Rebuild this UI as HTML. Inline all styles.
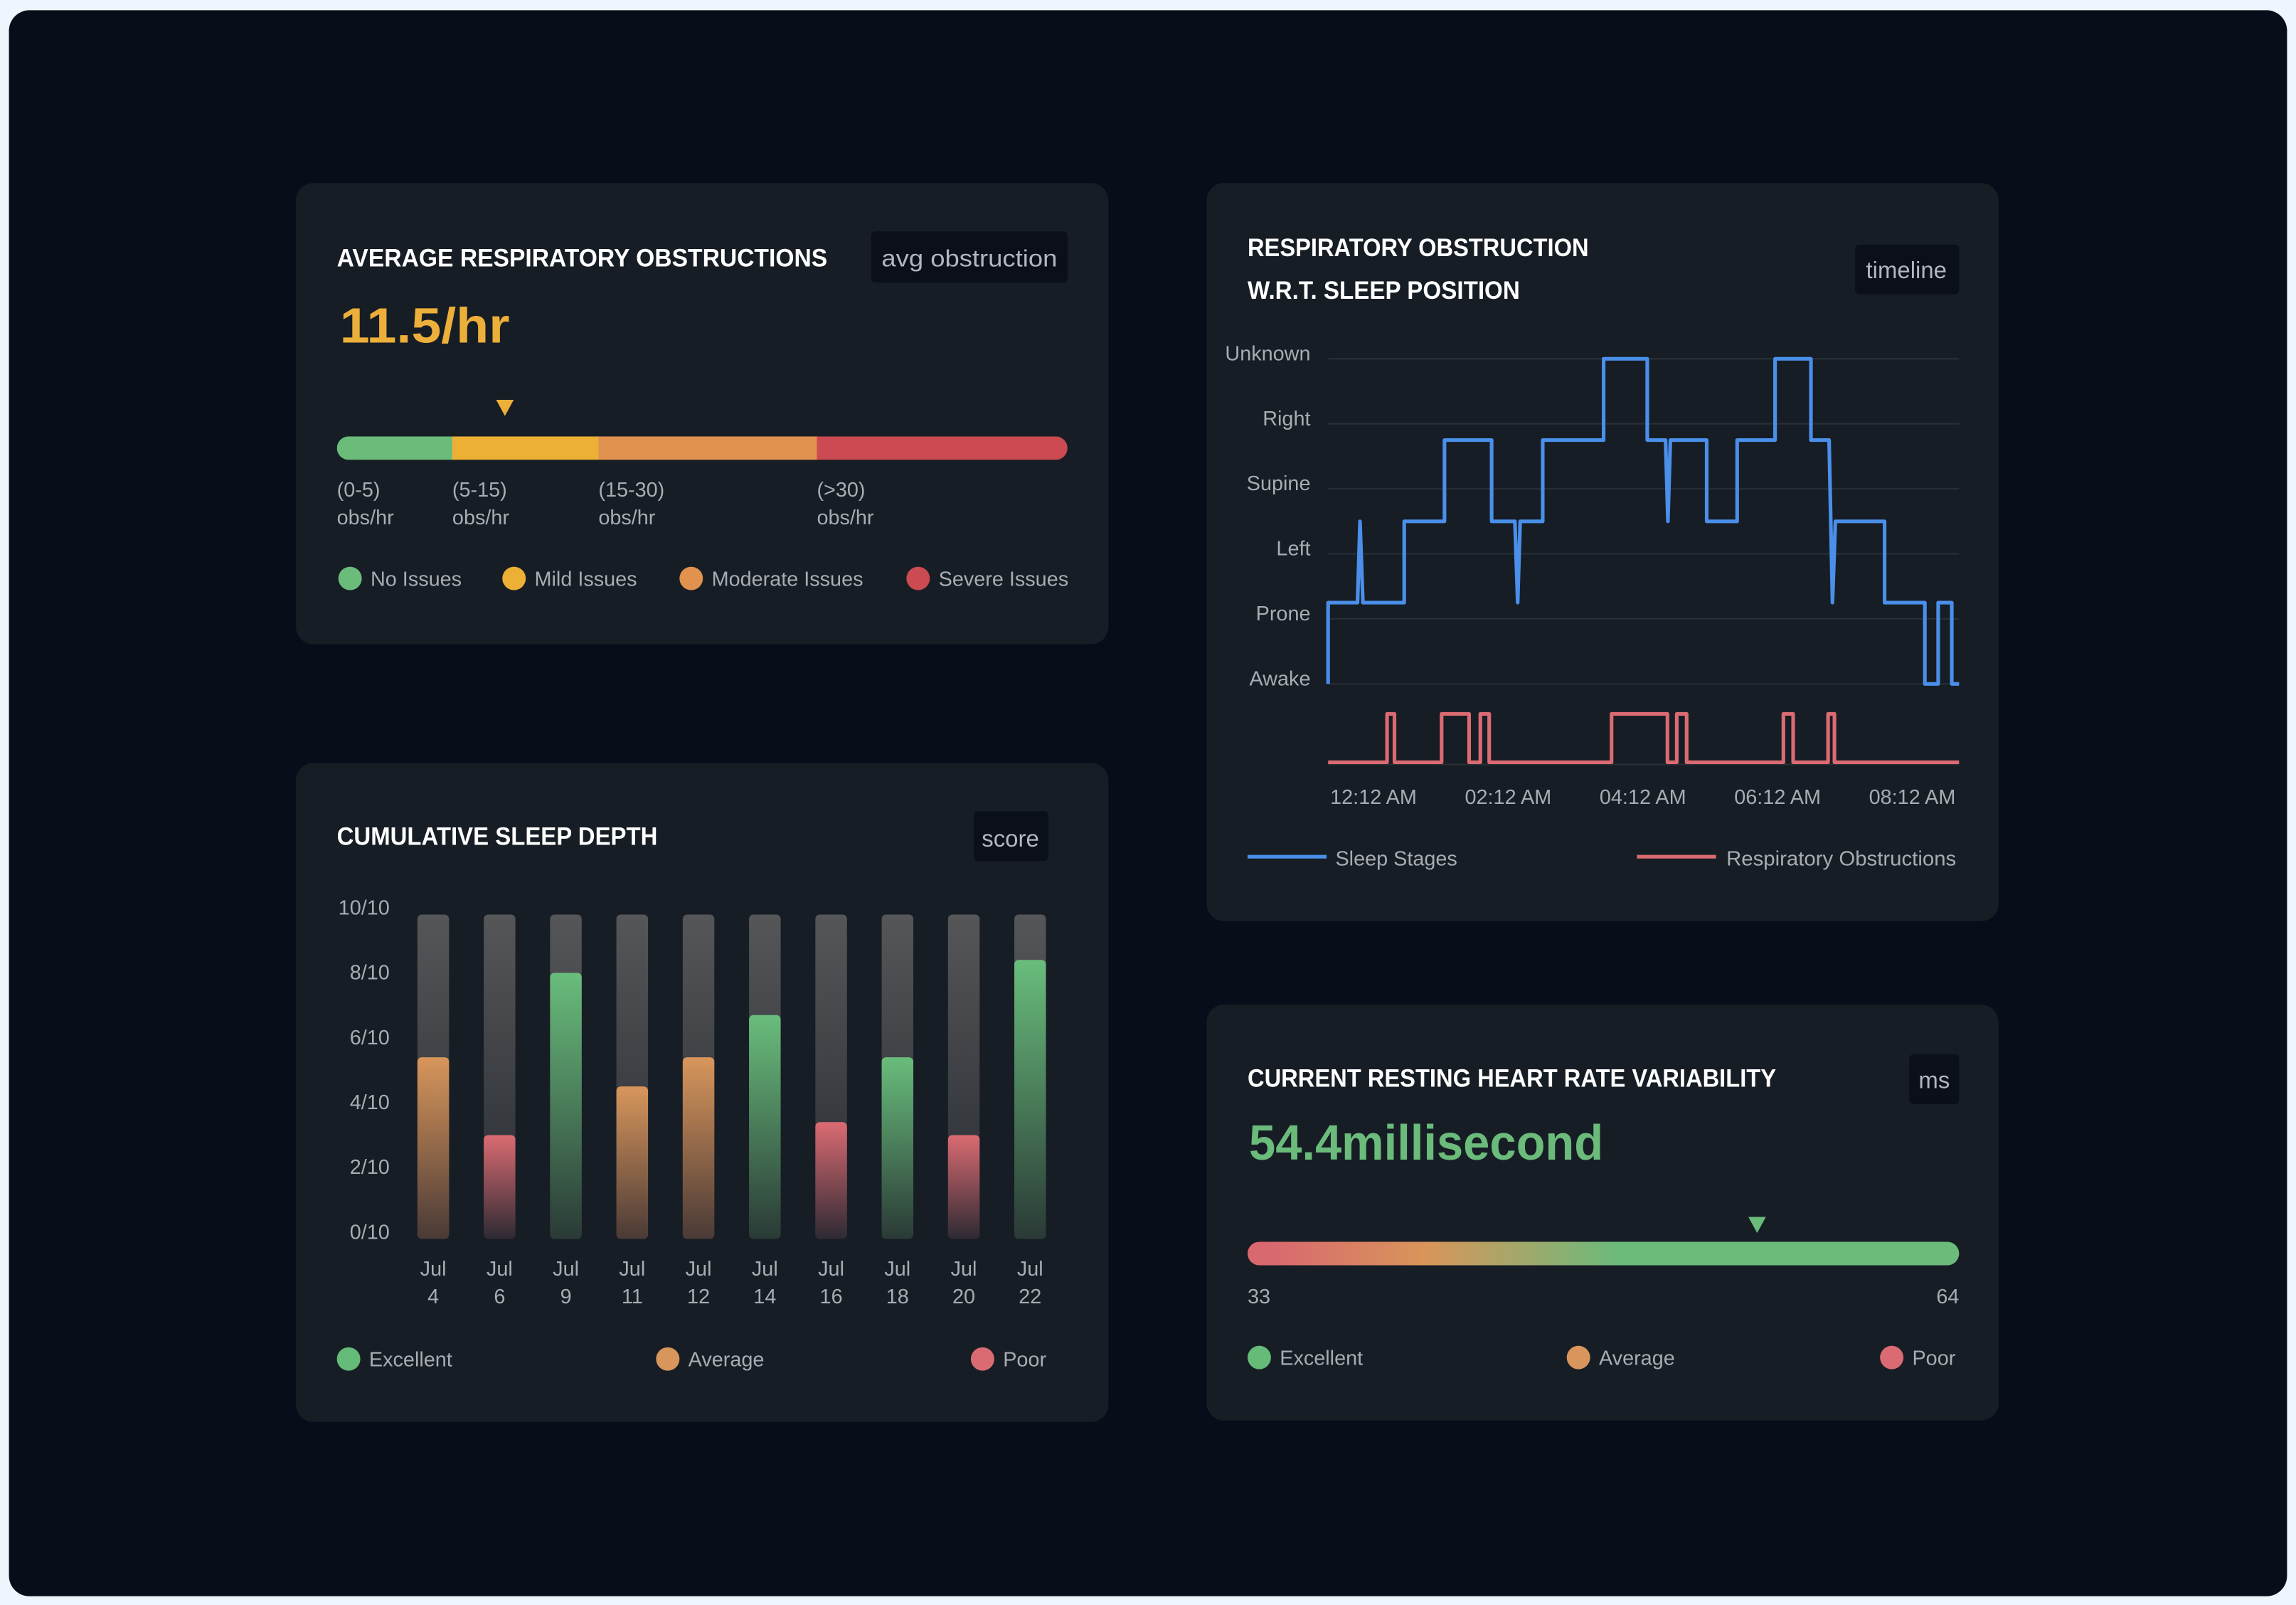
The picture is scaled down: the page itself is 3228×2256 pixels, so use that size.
<!DOCTYPE html>
<html><head><meta charset="utf-8"><style>
html,body{margin:0;padding:0;background:#eef5fd;}
svg{display:block;}
text{font-family:"Liberation Sans",sans-serif;}
</style></head><body>
<svg id="root" width="3228" height="2256" viewBox="0 0 1568 1096" xmlns="http://www.w3.org/2000/svg">
<defs>
<linearGradient id="trackG" x1="0" y1="0" x2="0" y2="1"><stop offset="0" stop-color="#555658"/><stop offset="1" stop-color="#262a31"/></linearGradient>
<linearGradient id="gG" x1="0" y1="0" x2="0" y2="1"><stop offset="0" stop-color="#69bd7c"/><stop offset="1" stop-color="#2a3a36"/></linearGradient>
<linearGradient id="oG" x1="0" y1="0" x2="0" y2="1"><stop offset="0" stop-color="#d8965c"/><stop offset="1" stop-color="#4a3a36"/></linearGradient>
<linearGradient id="rG" x1="0" y1="0" x2="0" y2="1"><stop offset="0" stop-color="#db6b72"/><stop offset="1" stop-color="#2e2a33"/></linearGradient>
<linearGradient id="hrvG" x1="0" y1="0" x2="1" y2="0"><stop offset="0.03" stop-color="#d9686f"/><stop offset="0.25" stop-color="#d8955a"/><stop offset="0.52" stop-color="#6bbb7b"/><stop offset="1" stop-color="#6bbb7b"/></linearGradient>
<clipPath id="obsClip"><rect x="230" y="298" width="499" height="16" rx="8"/></clipPath>
</defs>
<rect x="6" y="7" width="1556" height="1083" rx="14" fill="#070d19"/>

<!-- Card 1 -->
<g>
<rect x="202" y="125" width="555" height="315" rx="12" fill="#171d25"/>
<text x="230" y="182" font-size="17" font-weight="bold" fill="#ffffff" textLength="335" lengthAdjust="spacingAndGlyphs">AVERAGE RESPIRATORY OBSTRUCTIONS</text>
<rect x="595" y="158" width="134" height="35" rx="3" fill="#0a0f1a"/>
<text x="662" y="182" font-size="16" fill="#b3b6bb" text-anchor="middle" textLength="120" lengthAdjust="spacingAndGlyphs">avg obstruction</text>
<text x="232" y="234" font-size="34" font-weight="bold" fill="#ecb03a" textLength="116" lengthAdjust="spacingAndGlyphs">11.5/hr</text>
<g id="obsBar" clip-path="url(#obsClip)"></g>
<g id="obsLabels"></g>
<polygon id="obsMarker" fill="#ecb03a"/>
<g id="obsLegend"></g>
</g>

<!-- Card 2 -->
<g>
<rect x="202" y="521" width="555" height="450" rx="12" fill="#171d25"/>
<text x="230" y="577" font-size="17" font-weight="bold" fill="#ffffff" textLength="219" lengthAdjust="spacingAndGlyphs">CUMULATIVE SLEEP DEPTH</text>
<rect x="665" y="554" width="51" height="34" rx="3" fill="#0a0f1a"/>
<text x="690" y="578" font-size="16" fill="#b3b6bb" text-anchor="middle">score</text>
<g id="barChart"></g>
<g id="barLegend"></g>
</g>

<!-- Card 3 -->
<g>
<rect x="824" y="125" width="541" height="504" rx="12" fill="#171d25"/>
<text x="852" y="175" font-size="17" font-weight="bold" fill="#ffffff" textLength="233" lengthAdjust="spacingAndGlyphs">RESPIRATORY OBSTRUCTION</text>
<text x="852" y="204" font-size="17" font-weight="bold" fill="#ffffff" textLength="186" lengthAdjust="spacingAndGlyphs">W.R.T. SLEEP POSITION</text>
<rect x="1267" y="167" width="71" height="34" rx="3" fill="#0a0f1a"/>
<text x="1302" y="190" font-size="16" fill="#b3b6bb" text-anchor="middle">timeline</text>
<g id="timeline"></g>
<line x1="852" y1="585" x2="906" y2="585" stroke="#4a8fea" stroke-width="2.5"/>
<text x="912" y="591" font-size="14" fill="#a8acb3">Sleep Stages</text>
<line x1="1118" y1="585" x2="1172" y2="585" stroke="#db6b72" stroke-width="2.5"/>
<text x="1179" y="591" font-size="14" fill="#a8acb3" textLength="157" lengthAdjust="spacingAndGlyphs">Respiratory Obstructions</text>
</g>

<!-- Card 4 -->
<g>
<rect x="824" y="686" width="541" height="284" rx="12" fill="#171d25"/>
<text x="852" y="742" font-size="17" font-weight="bold" fill="#ffffff" textLength="361" lengthAdjust="spacingAndGlyphs">CURRENT RESTING HEART RATE VARIABILITY</text>
<rect x="1304" y="720" width="34" height="34" rx="3" fill="#0a0f1a"/>
<text x="1321" y="743" font-size="16" fill="#b3b6bb" text-anchor="middle">ms</text>
<text x="853" y="792" font-size="34" font-weight="bold" fill="#6bbb7b" textLength="242" lengthAdjust="spacingAndGlyphs">54.4millisecond</text>
<rect x="852" y="848" width="486" height="16" rx="8" fill="url(#hrvG)"/>
<polygon id="hrvMarker" fill="#6bbb7b"/>
<text x="852" y="890" font-size="14" fill="#a8acb3">33</text>
<text x="1338" y="890" font-size="14" fill="#a8acb3" text-anchor="end">64</text>
<g id="hrvLegend"></g>
</g>
</svg>
<script>
// ---------- data ----------
const obsSegLabels = ["(0-5)","(5-15)","(15-30)","(>30)"];
const obsSegStarts = [0, 5, 15, 30];
const obsSegWidthsPct = [15.8, 20.0, 29.9, 34.3];
const obsSegColors = ["#6bbb7b","#ecb035","#e0924e","#cc4a51"];
const obsValue = [11.5];
const obsScaleMax = [50];
const obsLegendNames = ["No Issues","Mild Issues","Moderate Issues","Severe Issues"];

const depthDates = ["Jul 4","Jul 6","Jul 9","Jul 11","Jul 12","Jul 14","Jul 16","Jul 18","Jul 20","Jul 22"];
const depthValues = [5.6,3.2,8.2,4.7,5.6,6.9,3.6,5.6,3.2,8.6];
const depthTicks = ["0/10","2/10","4/10","6/10","8/10","10/10"];

const stageLabels = ["Awake","Prone","Left","Supine","Right","Unknown"];
const sleepTimes = [-40.4,-40.4,-14.2,-12.0,-9.4,27.4,27.4,63.3,63.3,105.3,105.3,126,128.5,130.7,150.8,150.8,205,205,243.9,243.9,260.2,262.3,264.5,296.9,296.9,324,324,357.8,357.8,389.7,389.7,405.9,408.9,411.5,455.3,455.3,491.2,491.2,503.1,503.1,515.2,515.2,521.7];
const sleepLevels = [0,1,1,2,1,1,2,2,3,3,2,2,1,2,2,3,3,4,4,3,3,2,3,3,2,2,3,3,4,4,3,3,1,2,2,1,1,0,0,1,1,0,0];
const obsStarts = [12.1,60.7,95.2,212.1,270.2,365.2,405.0];
const obsEnds = [18.7,85.2,103.1,261.9,279.0,373.9,410.7];
const timeTicks = ["12:12 AM","02:12 AM","04:12 AM","06:12 AM","08:12 AM"];
const timeTickMinutes = [0,120,240,360,480];

const hrvValue = [55.2];
const hrvMin = [33], hrvMax = [64];

const NS="http://www.w3.org/2000/svg";
function mk(tag, attrs, parent){const e=document.createElementNS(NS,tag);for(const k in attrs)e.setAttribute(k,attrs[k]);parent.appendChild(e);return e;}

// ---------- card 1 ----------
(function(){
  const bar=document.getElementById('obsBar'), lab=document.getElementById('obsLabels');
  let x=230;const W=499;
  obsSegWidthsPct.forEach((p,i)=>{
    const w=W*p/100;
    const r=mk('rect',{x:x,y:298,width:w+0.5,height:16,fill:obsSegColors[i]},bar);
    
    
    const t1=mk('text',{x:x,y:339,'font-size':14,fill:'#a8acb3'},lab);t1.textContent=obsSegLabels[i];
    
    
    const t2=mk('text',{x:x,y:358,'font-size':14,fill:'#a8acb3'},lab);t2.textContent='obs/hr';
    
    
    x+=w;
  });
  const mx=230+W*obsValue[0]/obsScaleMax[0];
  document.getElementById('obsMarker').setAttribute('points',`${mx-6},273 ${mx+6},273 ${mx},284`);
  const leg=document.getElementById('obsLegend');
  const lx=[239,351,472,627];
  obsLegendNames.forEach((n,i)=>{
    const c=mk('circle',{cx:lx[i],cy:395,r:8,fill:obsSegColors[i]},leg);
    
    
    const t=mk('text',{x:lx[i]+14,y:400,'font-size':14,fill:'#a8acb3'},leg);t.textContent=n;
    
    
  });
})();

// ---------- card 2 ----------
(function(){
  const g=document.getElementById('barChart');
  const y=v=>846-v/10*221.5;
  const x0=285,pitch=45.3,bw=21.6;
  depthTicks.forEach((t,i)=>{
    const e=mk('text',{x:266,y:y(i*2),'font-size':14,fill:'#a8acb3','text-anchor':'end'},g);e.textContent=t;
    
    
  });
  depthValues.forEach((v,i)=>{
    const x=x0+i*pitch;
    const tr=mk('rect',{x:x,y:y(10),width:bw,height:y(0)-y(10),rx:3,fill:'url(#trackG)'},g);
    
    
    let fill=v<4?'url(#rG)':(v<5.7?'url(#oG)':'url(#gG)');
    if(i===7) fill='url(#gG)';
    const b=mk('rect',{x:x,y:y(v),width:bw,height:y(0)-y(v),rx:3,fill:fill},g);
    
    
    const parts=depthDates[i].split(' ');
    const t1=mk('text',{x:x+bw/2,y:871,'font-size':14,fill:'#a8acb3','text-anchor':'middle'},g);t1.textContent=parts[0];
    
    
    const t2=mk('text',{x:x+bw/2,y:890,'font-size':14,fill:'#a8acb3','text-anchor':'middle'},g);t2.textContent=parts[1];
    
    
  });
  const leg=document.getElementById('barLegend');
  const items=[["Excellent","#65bb78",238],["Average","#d8965c",456],["Poor","#db6b72",671]];
  items.forEach(it=>{
    const c=mk('circle',{cx:it[2],cy:928,r:8,fill:it[1]},leg);
    
    
    const t=mk('text',{x:it[2]+14,y:933,'font-size':14,fill:'#a8acb3'},leg);t.textContent=it[0];
    
    
  });
})();

// ---------- card 3 ----------
(function(){
  const g=document.getElementById('timeline');
  const X=m=>938+m/60*46;
  const gy=i=>467-i*44.4;
  const ly=l=>467-l*55.5;
  stageLabels.forEach((s,i)=>{
    const l=mk('line',{x1:907,x2:1338,y1:gy(i),y2:gy(i),stroke:'#2a2f36','stroke-width':1},g);
    
    
    const t=mk('text',{x:895,y:gy(i)+1,'font-size':14,fill:'#a8acb3','text-anchor':'end'},g);t.textContent=s;
    
    
  });
  const bl=mk('line',{x1:907,x2:1338,y1:522,y2:522,stroke:'#2a2f36','stroke-width':1},g);
  
  
  const pts=sleepTimes.map((t,i)=>X(t).toFixed(1)+','+ly(sleepLevels[i]).toFixed(1)).join(' ');
  const pl=mk('polyline',{points:pts,fill:'none',stroke:'#4a8fea','stroke-width':2.5,'stroke-linejoin':'round'},g);
  
  
  const base=520.5,hi=487.5;
  let d=`M${X(-40.4)},${base}`;
  obsStarts.forEach((s,i)=>{d+=` L${X(s)},${base} L${X(s)},${hi} L${X(obsEnds[i])},${hi} L${X(obsEnds[i])},${base}`;});
  d+=` L${X(521.7)},${base}`;
  const rp=mk('path',{d:d,fill:'none',stroke:'#db6b72','stroke-width':2.5,'stroke-linejoin':'round'},g);
  
  
  timeTicks.forEach((t,i)=>{
    const e=mk('text',{x:X(timeTickMinutes[i]),y:549,'font-size':14,fill:'#a8acb3','text-anchor':'middle'},g);e.textContent=t;
    
    
  });
})();

// ---------- card 4 ----------
(function(){
  const mx=852+486*(hrvValue[0]-hrvMin[0])/(hrvMax[0]-hrvMin[0]);
  document.getElementById('hrvMarker').setAttribute('points',`${mx-6},831 ${mx+6},831 ${mx},842`);
  const leg=document.getElementById('hrvLegend');
  const items=[["Excellent","#65bb78",860],["Average","#d8965c",1078],["Poor","#db6b72",1292]];
  items.forEach(it=>{
    const c=mk('circle',{cx:it[2],cy:927,r:8,fill:it[1]},leg);
    
    
    const t=mk('text',{x:it[2]+14,y:932,'font-size':14,fill:'#a8acb3'},leg);t.textContent=it[0];
    
    
  });
})();
</script>
</body></html>
